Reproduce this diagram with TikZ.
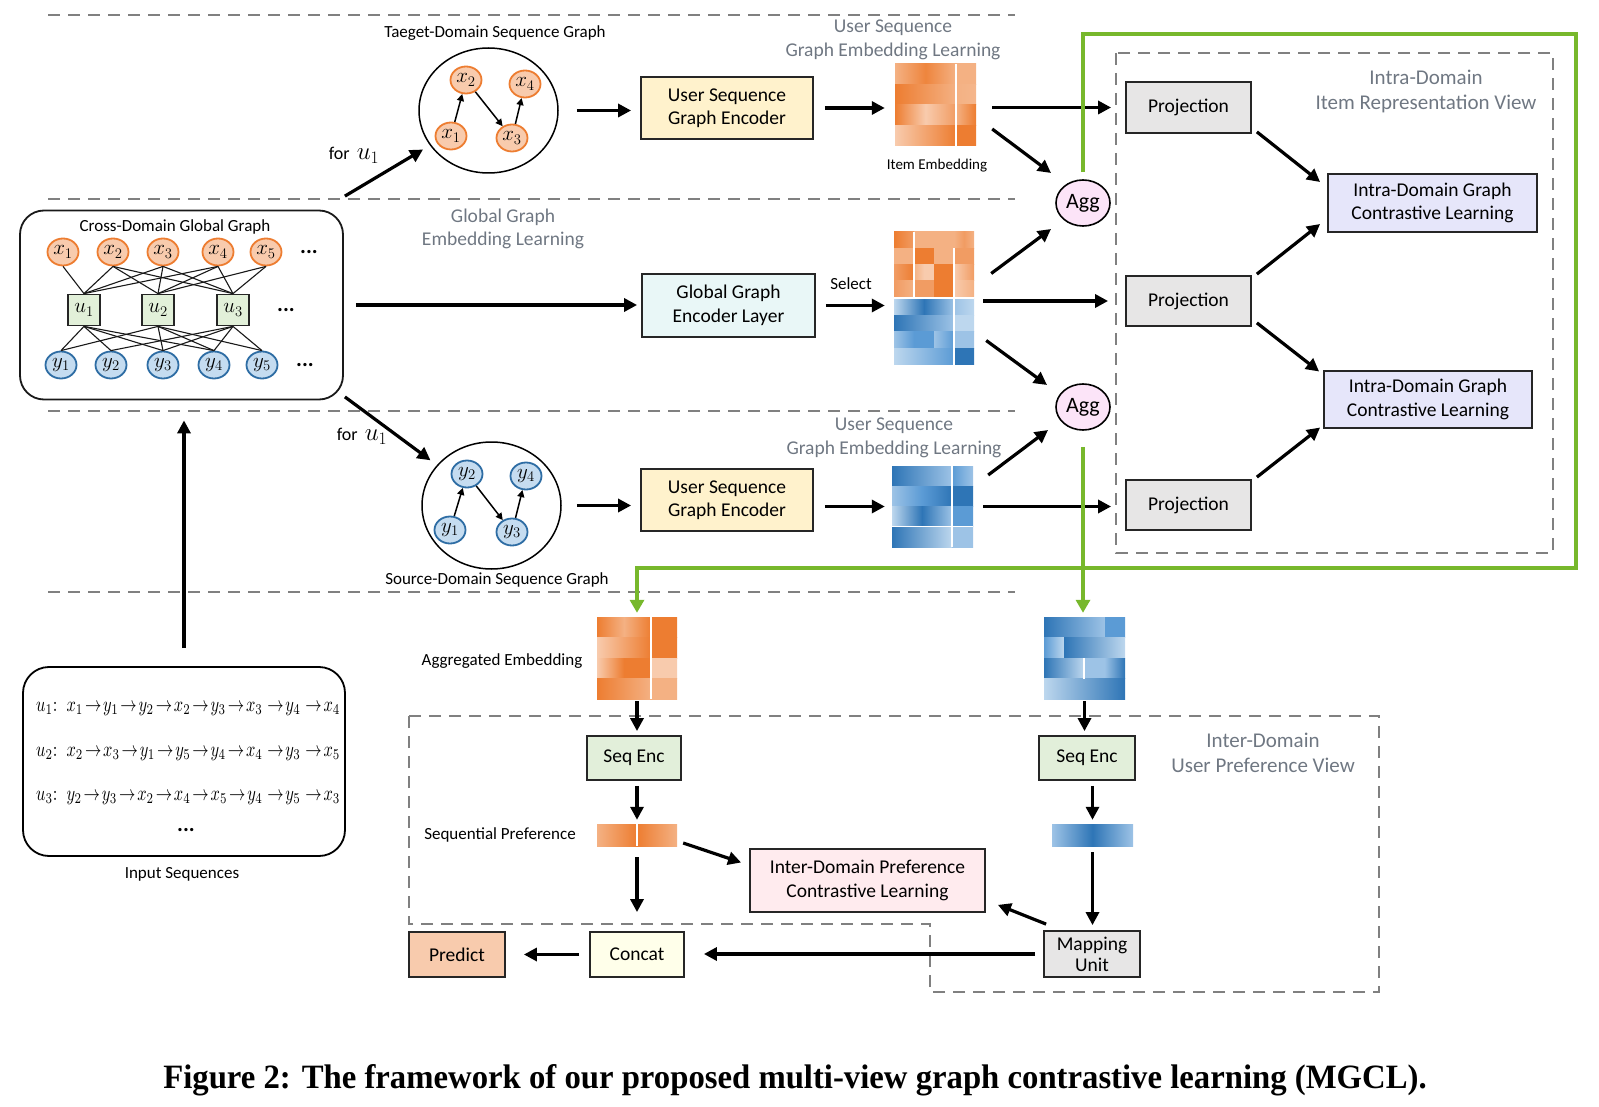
\RequirePackage{fix-cm}
\documentclass[tikz,border=0pt]{standalone}
\usepackage{fontspec}
\setmainfont{Carlito}
\newfontfamily\capfont{Liberation Serif}
\usetikzlibrary{arrows.meta,calc,shapes.geometric}
\definecolor{orF}{HTML}{F8CBAD}
\definecolor{orM}{HTML}{F4B183}
\definecolor{orH}{HTML}{F19C63}
\definecolor{orD}{HTML}{ED7D31}
\definecolor{bLL}{HTML}{BDD7EE}
\definecolor{bL}{HTML}{9DC3E6}
\definecolor{bM}{HTML}{5B9BD5}
\definecolor{bD}{HTML}{2E75B6}
\definecolor{nodeB}{HTML}{C5DCF0}
\definecolor{edgeB}{HTML}{2E6DA4}
\definecolor{uG}{HTML}{E2F0D9}
\definecolor{grn}{HTML}{77B82C}
\definecolor{sepG}{HTML}{808080}
\definecolor{ttlC}{HTML}{6F7782}
\definecolor{encY}{HTML}{FFF2CC}
\definecolor{encC}{HTML}{E9F7F7}
\definecolor{projG}{HTML}{E7E6E6}
\definecolor{clV}{HTML}{E6E6FA}
\definecolor{aggP}{HTML}{FCE4F8}
\definecolor{seqG}{HTML}{E2EFDA}
\definecolor{icP}{HTML}{FFEBEE}
\definecolor{catY}{HTML}{FFFFEA}
\definecolor{prO}{HTML}{F8CBAD}
\newcommand{\fs}[2]{\fontsize{#1pt}{#2pt}\selectfont}
\newcommand{\hc}[6]{\fill[left color=#5,right color=#6] (#1,#2) rectangle (#3,#4);}
\newcommand{\hcm}[7]{\fill[left color=#5,right color=#7,middle color=#6] (#1,#2) rectangle (#3,#4);}
\newcommand{\ra}{\!\rightarrow\!}
\newcommand{\seqline}[1]{\resizebox{304pt}{!}{\scalebox{1}[1.3]{#1}}}
\tikzset{
  nbox/.style={draw=black!85,line width=1.8pt,inner sep=0pt,align=center,font=\fs{19.5}{23.5}},
  arr/.style={line width=3.2pt,-{Triangle[length=13pt,width=13pt]}},
  sarr/.style={line width=1.5pt,-{Triangle[length=7pt,width=7pt]}},
  onode/.style={ellipse,draw=orD,fill=orF,line width=1.8pt,minimum width=31pt,minimum height=27pt,inner sep=0pt,font=\fs{21}{22}},
  bnode/.style={ellipse,draw=edgeB,fill=nodeB,line width=1.8pt,minimum width=31pt,minimum height=27pt,inner sep=0pt,font=\fs{21}{22}},
  unode/.style={draw=black!85,fill=uG,line width=1.8pt,minimum width=32pt,minimum height=31pt,inner sep=0pt,font=\fs{21}{22}},
  sepline/.style={draw=sepG,line width=2.6pt,dash pattern=on 12pt off 8pt},
  gline/.style={draw=grn,line width=4.2pt},
  garr/.style={gline,-{Triangle[length=13pt,width=14pt]}},
  ttl/.style={text=ttlC,align=center,font=\fs{19.5}{23.5}},
  lbl/.style={font=\fs{17}{20}},
  gedge/.style={line width=1.1pt,draw=black!90},
  dots/.style={font=\fs{22}{22}\bfseries},
}
\begin{document}
\begin{tikzpicture}[x=1pt,y=-1pt]
\useasboundingbox (0,0) rectangle (1599,1107);
% separators
\foreach \yy in {15,199,411,592} \draw[sepline] (48,\yy) -- (1015,\yy);

% ---------- cross-domain global graph
\node[draw=black!90,line width=1.8pt,rounded corners=24pt,minimum width=323pt,minimum height=189pt,inner sep=0pt] (gg) at (181.5,305) {};
\node[lbl] (ggt) at (175,227) {Cross-Domain Global Graph};
\node[onode] (gx1) at (63,252) {$x_1$};
\node[onode] (gx2) at (113,252) {$x_2$};
\node[onode] (gx3) at (163,252) {$x_3$};
\node[onode] (gx4) at (218,252) {$x_4$};
\node[onode] (gx5) at (266,252) {$x_5$};
\node[unode] (gu1) at (84,310) {$u_1$};
\node[unode] (gu2) at (158,310) {$u_2$};
\node[unode] (gu3) at (233,310) {$u_3$};
\node[bnode] (gy1) at (61,365) {$y_1$};
\node[bnode] (gy2) at (111,365) {$y_2$};
\node[bnode] (gy3) at (163,365) {$y_3$};
\node[bnode] (gy4) at (214,365) {$y_4$};
\node[bnode] (gy5) at (262,365) {$y_5$};
\node[dots] (gd1) at (309,252) {...};
\node[dots] (gd2) at (286,310) {...};
\node[dots] (gd3) at (305,365) {...};
\foreach \a/\b in {1/1,2/1,3/1,4/1,2/2,3/2,4/2,5/2,2/3,3/3,4/3,5/3}
  \draw[gedge] (gx\a.south) -- (gu\b.north);
\foreach \a/\b in {1/1,1/2,1/3,1/4,2/1,2/3,2/4,2/5,3/2,3/3,3/4,3/5}
  \draw[gedge] (gu\a.south) -- (gy\b.north);

% ---------- target-domain sequence graph
\node[draw=black,line width=1.5pt,ellipse,minimum width=139pt,minimum height=125pt,inner sep=0pt] (tg) at (488.5,110.5) {};
\node[lbl] (tgt) at (495,33) {Taeget-Domain Sequence Graph};
\node[onode] (tx2) at (466,80) {$x_2$};
\node[onode] (tx4) at (525,84) {$x_4$};
\node[onode] (tx1) at (451,136) {$x_1$};
\node[onode] (tx3) at (512,138) {$x_3$};
\draw[sarr] (tx1) -- (tx2);
\draw[sarr] (tx2) -- (tx3);
\draw[sarr] (tx3) -- (tx4);

% ---------- source-domain sequence graph
\node[draw=black,line width=1.5pt,ellipse,minimum width=139pt,minimum height=127pt,inner sep=0pt] (sg) at (491.5,505.5) {};
\node[lbl] (sgt) at (497,580) {Source-Domain Sequence Graph};
\node[bnode] (sy2) at (467,474) {$y_2$};
\node[bnode] (sy4) at (526,476) {$y_4$};
\node[bnode] (sy1) at (450,530) {$y_1$};
\node[bnode] (sy3) at (512,532) {$y_3$};
\draw[sarr] (sy1) -- (sy2);
\draw[sarr] (sy2) -- (sy3);
\draw[sarr] (sy3) -- (sy4);

% for u1 arrows
\node[font=\fs{18}{20}] (fu1) at (354,155) {for\, {\fs{25}{25}$u_1$}};
\node[font=\fs{18}{20}] (fu2) at (362,436) {for\, {\fs{25}{25}$u_1$}};
\draw[arr,shorten >=8pt] ($(gg.north east)+(1,-13.5)$) -- (tg);
\draw[arr,shorten >=8pt] ($(gg.south east)+(1,-3.5)$) -- (sg);

% ---------- encoders
\node[nbox,fill=encY,minimum width=172pt,minimum height=62pt] (enc1) at (727,108) {User Sequence\\Graph Encoder};
\node[nbox,fill=encC,minimum width=173pt,minimum height=63pt] (genc) at (728.5,305.5) {Global Graph\\Encoder Layer};
\node[nbox,fill=encY,minimum width=172pt,minimum height=62pt] (enc2) at (727,500) {User Sequence\\Graph Encoder};
\node[ttl] (t1) at (893,40) {User Sequence\\Graph Embedding Learning};
\node[ttl] (t2) at (503,229) {Global Graph\\Embedding Learning};
\node[ttl] (t3) at (894,438) {User Sequence\\Graph Embedding Learning};

% ---------- heatmap 1 (target items)
\hcm{895}{64}{956}{84.5}{orM}{orD!85!orM}{orM}
\hc{956}{64}{976}{84.5}{orM}{orM}
\hc{895}{84.5}{956}{105}{orD}{orM}
\hc{956}{84.5}{976}{105}{orM}{orM!80!orF}
\hcm{895}{105}{956}{125.5}{orD}{orF}{orH}
\hc{956}{105}{976}{125.5}{orM}{orD}
\hc{895}{125.5}{956}{146}{orF}{orD}
\hc{956}{125.5}{976}{146}{orD}{orD}
\draw[white,line width=1.2pt] (956,64) -- (956,146);
\node[inner sep=0pt,minimum width=81pt,minimum height=82pt] (heat1) at (935.5,105) {};
\node[font=\fs{15}{18}] (iemb) at (937,166) {Item Embedding};

% ---------- heatmap 2 (global)
\hc{894}{232}{914}{248.25}{orD}{orH}
\hc{914}{232}{954}{248.25}{orM}{orM}
\hcm{954}{232}{974}{248.25}{orM}{orH}{orM}
\hc{894}{248.25}{914}{264.5}{orM}{orM}
\hc{914}{248.25}{934}{264.5}{orD}{orD}
\hc{934}{248.25}{954}{264.5}{orM}{orM}
\hc{954}{248.25}{974}{264.5}{orH}{orH}
\hc{894}{264.5}{914}{280.75}{orH}{orD}
\hcm{914}{264.5}{934}{280.75}{orM}{orF}{orF}
\hc{934}{264.5}{954}{280.75}{orD}{orD}
\hc{954}{264.5}{974}{280.75}{orF}{orH}
\hc{894}{280.75}{914}{297}{orH}{orM}
\hc{914}{280.75}{934}{297}{orH}{orH}
\hc{934}{280.75}{954}{297}{orD}{orD}
\hc{954}{280.75}{974}{297}{orF}{orM}
\hcm{894}{299}{954}{315.5}{bLL}{bD}{bL}
\hc{954}{299}{974}{315.5}{bL}{bLL}
\hc{894}{315.5}{954}{332}{bD}{bL}
\hc{954}{315.5}{974}{332}{bLL}{bLL}
\hc{894}{332}{914}{348.5}{bL}{bM}
\hc{914}{332}{934}{348.5}{bM}{bM}
\hc{934}{332}{954}{348.5}{bL}{bM}
\hc{954}{332}{974}{348.5}{bL}{bL}
\hc{894}{348.5}{954}{365}{bLL}{bM}
\hc{954}{348.5}{974}{365}{bD}{bD}
\draw[white,line width=1.2pt] (914,232) -- (914,297) (954,248.25) -- (954,297) (894,298) -- (974,298) (954,299) -- (954,365);
\node[inner sep=0pt,minimum width=80pt,minimum height=133pt] (heat2) at (934,298.5) {};
\node[lbl] (sel) at (851,284) {Select};

% ---------- heatmap 3 (source items)
\hc{892}{466}{952}{486.25}{bD}{bL}
\hc{952}{466}{973}{486.25}{bM}{bL}
\hcm{892}{486.25}{952}{506.5}{bL}{bM}{bD}
\hc{952}{486.25}{973}{506.5}{bD}{bD}
\hcm{892}{506.5}{952}{526.75}{bLL}{bD}{bL}
\hc{952}{506.5}{973}{526.75}{bM}{bM}
\hc{892}{526.75}{952}{547}{bD}{bLL}
\hc{952}{526.75}{973}{547}{bL}{bL}
\draw[white,line width=1.2pt] (952,466) -- (952,547) (892,526.75) -- (973,526.75);
\node[inner sep=0pt,minimum width=81pt,minimum height=81pt] (heat3) at (932.5,506.5) {};

% ---------- Agg
\node[ellipse,draw=black,line width=1.6pt,fill=aggP,minimum width=54pt,minimum height=46pt,inner sep=0pt,font=\fs{22}{22}] (agg1) at (1083,203) {Agg};
\node[ellipse,draw=black,line width=1.6pt,fill=aggP,minimum width=54pt,minimum height=46pt,inner sep=0pt,font=\fs{22}{22}] (agg2) at (1083,407) {Agg};

% ---------- intra-domain view
\draw[sepline] (1116,53) rectangle (1553,553);
\node[ttl,font=\fs{21}{25}] (intt) at (1426,91) {Intra-Domain\\Item Representation View};
\node[nbox,fill=projG,minimum width=125pt,minimum height=51pt] (proj1) at (1188.5,107.5) {Projection};
\node[nbox,fill=projG,minimum width=125pt,minimum height=50pt] (proj2) at (1188.5,301) {Projection};
\node[nbox,fill=projG,minimum width=125pt,minimum height=50pt] (proj3) at (1188.5,505) {Projection};
\node[nbox,fill=clV,minimum width=209pt,minimum height=58pt] (cl1) at (1432.5,203) {Intra-Domain Graph\\Contrastive Learning};
\node[nbox,fill=clV,minimum width=208pt,minimum height=57pt] (cl2) at (1428,399.5) {Intra-Domain Graph\\Contrastive Learning};

% ---------- bottom heatmaps
\hcm{597}{617}{651}{637.5}{orD}{orM}{orD}
\hc{651}{617}{677}{637.5}{orD}{orD}
\hc{597}{637.5}{651}{658}{orF}{orD}
\hc{651}{637.5}{677}{658}{orD}{orD}
\hcm{597}{658}{651}{678.5}{orF}{orD}{orD}
\hc{651}{658}{677}{678.5}{orF}{orF}
\hc{597}{678.5}{651}{699}{orD}{orM}
\hc{651}{678.5}{677}{699}{orM}{orM}
\draw[white,line width=1.2pt] (651,617) -- (651,699);
\node[inner sep=0pt,minimum width=80pt,minimum height=82pt] (aggO) at (637,658) {};
\hc{1044}{617}{1105}{637.5}{bD}{bL}
\hc{1105}{617}{1125}{637.5}{bM}{bM}
\hc{1044}{637.5}{1064}{658}{bM}{bLL}
\hc{1064}{637.5}{1125}{658}{bD}{bLL}
\hc{1044}{658}{1084}{678.5}{bD}{bLL}
\hcm{1084}{658}{1125}{678.5}{bL}{bL}{bD}
\hc{1044}{678.5}{1125}{699}{bLL}{bD}
\draw[white,line width=1.2pt] (1084,658) -- (1084,678.5);
\node[inner sep=0pt,minimum width=81pt,minimum height=82pt] (aggB) at (1084.5,658) {};
\node[lbl] (aggl) at (502,661) {Aggregated Embedding};

% ---------- inter-domain view
\draw[sepline] (409,716) -- (1379,716) -- (1379,992) -- (930,992) -- (930,924) -- (409,924) -- cycle;
\node[ttl,font=\fs{21}{25}] (intr) at (1263,753) {Inter-Domain\\User Preference View};
\node[nbox,fill=seqG,minimum width=94pt,minimum height=44pt] (seq1) at (634,758) {Seq Enc};
\node[nbox,fill=seqG,minimum width=96pt,minimum height=44pt] (seq2) at (1087,758) {Seq Enc};
\hc{597}{824}{637}{846}{orM}{orD}
\hc{637}{824}{677}{846}{orD}{orM}
\draw[white,line width=1.2pt] (637,824) -- (637,846);
\node[inner sep=0pt,minimum width=80pt,minimum height=22pt] (pref1) at (637,835) {};
\hcm{1052}{824}{1133}{846}{bL}{bD}{bL}
\node[inner sep=0pt,minimum width=81pt,minimum height=22pt] (pref2) at (1092.5,835) {};
\node[lbl] (prefl) at (500,835) {Sequential Preference};
\node[nbox,fill=icP,minimum width=235pt,minimum height=63pt] (icl) at (867.5,880.5) {Inter-Domain Preference\\Contrastive Learning};
\node[nbox,fill=projG,minimum width=96pt,minimum height=46pt,font=\fs{19.5}{21}] (mapu) at (1092,954) {Mapping\\Unit};
\node[nbox,fill=catY,minimum width=94pt,minimum height=45pt] (concat) at (637,954.5) {Concat};
\node[nbox,fill=prO,minimum width=96pt,minimum height=45pt] (predict) at (457,954.5) {Predict};

% ---------- input sequences
\node[draw=black,line width=1.8pt,rounded corners=26pt,minimum width=322pt,minimum height=189pt,inner sep=0pt] (inp) at (184,761.5) {};
\node[anchor=west,inner sep=0pt] (s1) at (36,709) {\seqline{$u_1{:}\;\; x_1\ra y_1\ra y_2\ra x_2\ra y_3\ra x_3\,\ra y_4\,\ra x_4$}};
\node[anchor=west,inner sep=0pt] (s2) at (36,754) {\seqline{$u_2{:}\;\; x_2\ra x_3\ra y_1\ra y_5\ra y_4\ra x_4\,\ra y_3\,\ra x_5$}};
\node[anchor=west,inner sep=0pt] (s3) at (36,798) {\seqline{$u_3{:}\;\; y_2\ra y_3\ra x_2\ra x_4\ra x_5\ra y_4\,\ra y_5\,\ra x_3$}};
\node[dots] (sd) at (186,830) {...};
\node[lbl] (inpl) at (182,874) {Input Sequences};

% ---------- arrows
\draw[arr,shorten <=18pt,shorten >=9pt] (tg.east) -- (tg.east -| enc1.west);
\draw[arr,shorten <=11pt,shorten >=10pt] (enc1.east) -- (enc1.east -| heat1.west);
\draw[arr,shorten <=16pt,shorten >=14pt] (proj1.west -| heat1.east) -- (proj1.west);
\draw[arr] ($(heat1.east)+(16,24)$) -- ($(agg1)+(-32,-30)$);
\draw[arr,shorten <=12pt,shorten >=4pt] (gg.east) -- (gg.east -| genc.west);
\draw[arr,shorten <=10pt,shorten >=9pt] (genc.east) -- (genc.east -| heat2.west);
\draw[arr] ($(heat2.east)+(17,-25)$) -- ($(agg1)+(-32,26)$);
\draw[arr,shorten <=9pt,shorten >=17pt] (proj2.west -| heat2.east) -- (proj2.west);
\draw[arr] ($(heat2.east)+(12,42)$) -- ($(agg2)+(-36,-22)$);
\draw[arr] ($(heat3.east)+(15,-31.5)$) -- ($(agg2)+(-35,23)$);
\draw[arr,shorten <=10pt,shorten >=14pt] (heat3.east) -- (heat3.east -| proj3.west);
\draw[arr,shorten <=15pt,shorten >=9pt] (sg.east) -- (sg.east -| enc2.west);
\draw[arr,shorten <=11pt,shorten >=7pt] (heat3.west -| enc2.east) -- (heat3.west);
\draw[arr] ($(proj1.south east)+(5,-2)$) -- ($(cl1.west)+(-7,-21)$);
\draw[arr] ($(proj2.north east)+(5,-1)$) -- ($(cl1.west)+(-7,21)$);
\draw[arr] ($(proj2.south east)+(5,-4)$) -- ($(cl2.west)+(-4,-28)$);
\draw[arr] ($(proj3.north east)+(5,-2)$) -- ($(cl2.west)+(-3,28)$);
% green
\coordinate (g1) at (1576,34);
\coordinate (g2) at (1576,568);
\coordinate (g3) at (637,568);
\draw[garr,shorten <=7pt,shorten >=4pt] (agg1.north) |- (g1) -- (g2) -- (g3) -- (aggO.north);
\draw[garr,shorten <=16pt,shorten >=4pt] (agg2.south) -- (agg2.south |- aggB.north);
% bottom
\draw[arr,shorten <=2pt,shorten >=4pt] (aggO.south) -- (aggO.south |- seq1.north);
\draw[arr,shorten <=2pt,shorten >=4pt] (aggB.south) -- (aggB.south |- seq2.north);
\draw[arr,shorten <=5pt,shorten >=4pt] (pref1.north |- seq1.south) -- (pref1.north);
\draw[arr,shorten <=5pt,shorten >=4pt] (pref2.north |- seq2.south) -- (pref2.north);
\draw[arr,shorten <=11pt,shorten >=19pt] (pref1.south) -- (pref1.south |- concat.north);
\draw[arr] ($(pref1.east)+(6,8)$) -- ($(icl.west)+(-8,-18)$);
\draw[arr,shorten <=6pt,shorten >=5pt] (pref2.south) -- (pref2.south |- mapu.north);
\draw[arr] ($(mapu.north west)+(3,-6)$) -- ($(icl.south east)+(12,-8)$);
\draw[arr,shorten <=8pt,shorten >=19pt] (mapu.west) -- (mapu.west -| concat.east);
\draw[arr,shorten <=10pt,shorten >=18pt] (concat.west) -- (concat.west -| predict.east);
\draw[arr,shorten <=18pt,shorten >=20pt] (inp.north) -- (inp.north |- gg.south);

% caption
\node[anchor=base,inner sep=0pt] (cap) at (795,1088) {\resizebox{1263pt}{24pt}{\capfont\bfseries Figure 2: The framework of our proposed multi-view graph contrastive learning (MGCL).}};
\end{tikzpicture}
\end{document}
